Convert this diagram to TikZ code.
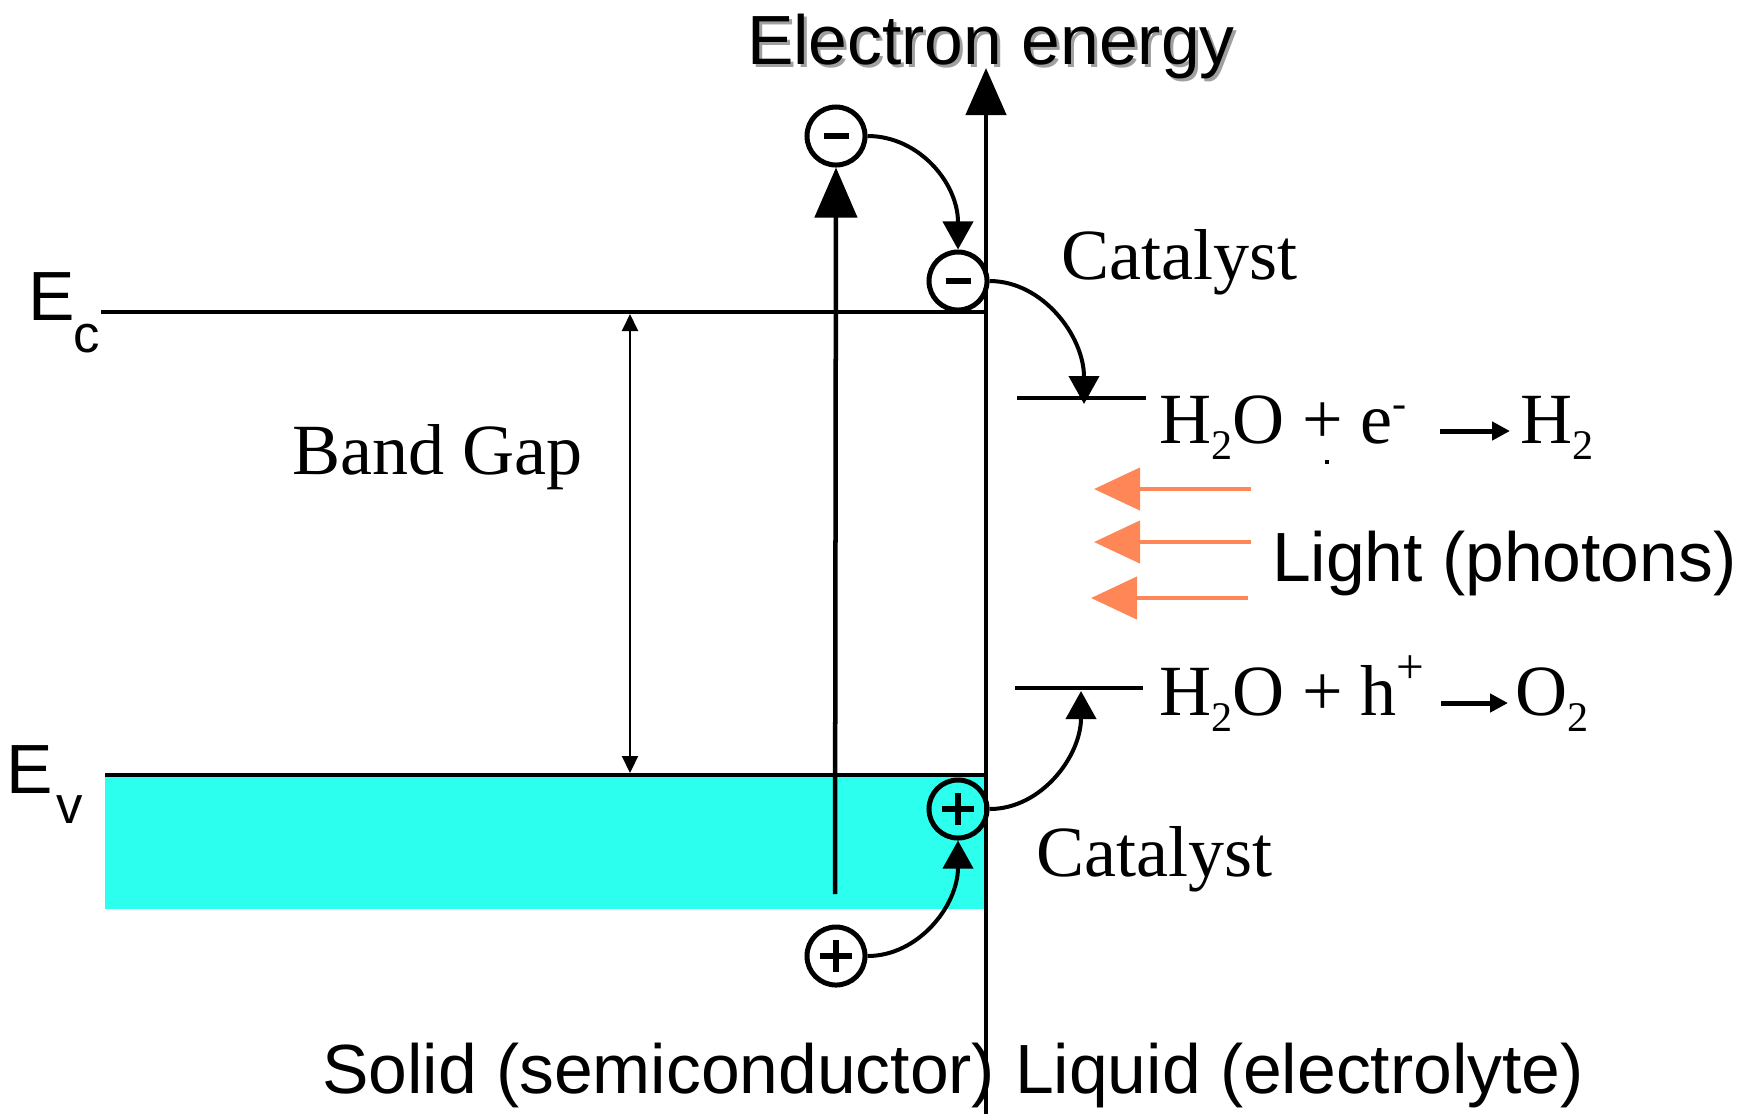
\documentclass[tikz,border=0pt]{standalone}
\usepackage{fontspec}
\setmainfont{Liberation Serif}
\newfontfamily\arialf{Liberation Sans}
\usetikzlibrary{arrows.meta,calc}
\definecolor{bandcyan}{RGB}{45,255,238}
\definecolor{lightorange}{RGB}{255,134,87}
\definecolor{shadowgray}{RGB}{160,160,160}
\newcommand{\sbs}[1]{\raisebox{-0.16cm}{\fontsize{12}{12}\selectfont #1}}
\newcommand{\sps}[3]{\raisebox{#1}{\fontsize{#2}{#2}\selectfont #3}}
\begin{document}
\begin{tikzpicture}[x=0.01cm,y=-0.01cm,
  txt/.style={inner sep=0pt,outer sep=0pt,anchor=base west},
  sans/.style={txt,font=\arialf\fontsize{19.8}{21}\selectfont},
  sanssub/.style={txt,font=\arialf\fontsize{15}{15}\selectfont},
  serif/.style={txt,font=\fontsize{20.5}{22}\selectfont},
  charge/.style={circle,draw,line width=0.05cm,minimum size=0.58cm,inner sep=0pt},
  sign/.style={line width=0.055cm},
  band/.style={line width=0.04cm},
  axisarrow/.style={line width=0.045cm,-{Triangle[length=0.47cm,width=0.40cm]}},
  jumparrow/.style={line width=0.045cm,-{Triangle[length=0.50cm,width=0.42cm]}},
  gaparrow/.style={line width=0.02cm,{Triangle[length=0.17cm,width=0.16cm]}-{Triangle[length=0.17cm,width=0.16cm]}},
  hop/.style={line width=0.04cm,-{Triangle[length=0.28cm,width=0.30cm]}},
  photon/.style={lightorange,line width=0.045cm,-{Triangle[length=0.46cm,width=0.42cm]}},
  rxn/.style={line width=0.05cm,-{Triangle[length=0.18cm,width=0.18cm]}}
]
\useasboundingbox (0,0) rectangle (1758,1114);

% band region
\fill[bandcyan] (105,775) rectangle (984,909);
\coordinate (ecl) at (101,312); \coordinate (ecr) at (986,312);
\coordinate (evl) at (105,775); \coordinate (evr) at (986,775);
\draw[band] (ecl) -- (ecr);
\draw[band] (evl) -- (evr);

% band gap arrow
\coordinate (bgtop) at (630,314); \coordinate (bgbot) at (630,773);
\draw[gaparrow] (bgtop) -- (bgbot);
\node[serif] (bandgap) at (292,474) {Band Gap};

% labels E_c, E_v
\node[sans] (ec) at (28,320) {E};
\node[sanssub] (ecsub) at (73,352) {c};
\node[sans] (ev) at (6,793) {E};
\node[sanssub] (evsub) at (56,823) {v};

% axis
\coordinate (axbot) at (986,1114); \coordinate (axtop) at (986,68);
\draw[axisarrow] (axbot) -- (axtop);
\node[sans,shadowgray] (eeshadow) at (750,67) {Electron energy};
\node[sans] (ee) at (747,64) {Electron energy};

% charges
\node[charge,fill=white] (m1) at (836,136) {};
\node[charge,fill=white] (m2) at (958,281) {};
\node[charge] (p1) at (958,809) {};
\node[charge,fill=white] (p2) at (836,956) {};
\foreach \n in {m1,m2}
  \draw[sign] ($(\n.center)+(-12.5,0)$) -- ($(\n.center)+(12.5,0)$);
\foreach \n in {p1,p2}{
  \draw[sign] ($(\n.center)+(-16,0)$) -- ($(\n.center)+(16,0)$);
  \draw[sign] ($(\n.center)+(0,-16)$) -- ($(\n.center)+(0,16)$);
}

% excitation arrow
\coordinate (exbot) at (835,894);
\draw[jumparrow] (exbot) -- (m1.south);

% hops
\draw[hop] (m1.east) .. controls +(51,0) and +(0,-67) .. (m2.north);
\draw[hop] (p2.east) .. controls +(51,0) and +(0,65) .. (p1.south);

% levels in liquid
\coordinate (lul) at (1017,398); \coordinate (lur) at (1146,398);
\coordinate (lll) at (1015,688); \coordinate (llr) at (1143,688);
\draw[band] (lul) -- (lur);
\draw[band] (lll) -- (llr);
\coordinate (hupper) at (1084,404);
\coordinate (hlower) at (1081,691);
\draw[hop] (m2.east) .. controls +(53,0) and +(0,-68) .. (hupper);
\draw[hop] (p1.east) .. controls +(52,0) and +(0,65) .. (hlower);

\node[serif] (catup) at (1061,279) {Catalyst};
\node[serif] (catlo) at (1036,876) {Catalyst};

% reactions
\node[serif] (rxnup) at (1159,443) {H\sbs{2}O + e\sps{0.26cm}{12}{-}};
\node[serif] (h2) at (1520,443) {H\sbs{2}};
\coordinate (ruA) at (1440,431); \coordinate (ruB) at (1510,431);
\draw[rxn] (ruA) -- (ruB);
\fill (1325,460) rectangle (1329,464);

\node[serif] (rxnlo) at (1159,715) {H\sbs{2}O + h\sps{0.32cm}{14}{+}};
\node[serif] (o2) at (1515,715) {O\sbs{2}};
\coordinate (rlA) at (1441,703); \coordinate (rlB) at (1508,703);
\draw[rxn] (rlA) -- (rlB);

% photons
\coordinate (ph1s) at (1251,489); \coordinate (ph1e) at (1094,489);
\coordinate (ph2s) at (1251,542); \coordinate (ph2e) at (1094,542);
\coordinate (ph3s) at (1248,598); \coordinate (ph3e) at (1091,598);
\draw[photon] (ph1s) -- (ph1e);
\draw[photon] (ph2s) -- (ph2e);
\draw[photon] (ph3s) -- (ph3e);
\node[sans] (light) at (1272,581) {Light (photons)};

% bottom labels
\node[sans] (solid) at (322,1093) {Solid (semiconductor)};
\node[sans] (liquid) at (1015,1093) {Liquid (electrolyte)};
\end{tikzpicture}
\end{document}
